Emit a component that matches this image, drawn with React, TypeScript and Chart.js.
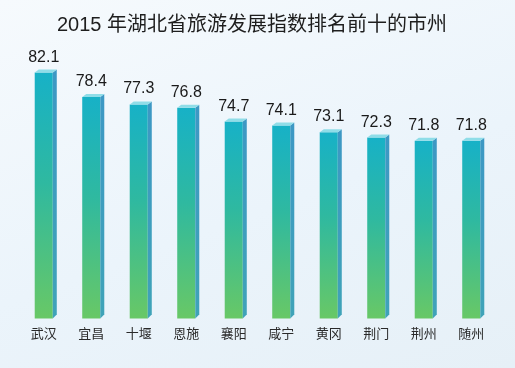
import React, { useEffect, useRef } from "react";
import { Chart, registerables } from "chart.js";

Chart.register(...registerables);

const titleText = "2015 年湖北省旅游发展指数排名前十的市州";
const cities = ["武汉", "宜昌", "十堰", "恩施", "襄阳", "咸宁", "黄冈", "荆门", "荆州", "随州"];
const indexValues = [82.1, 78.4, 77.3, 76.8, 74.7, 74.1, 73.1, 72.3, 71.8, 71.8];

const FONT = '"Liberation Sans", "Noto Sans CJK SC", sans-serif';

const bar3dPlugin = {
  id: "bar3d",
  afterDatasetsDraw(chart: any) {
    const ctx = chart.ctx;
    const meta = chart.getDatasetMeta(0);
    const base = chart.chartArea.bottom;
    const dx = 4;
    const dy = 3;
    meta.data.forEach((bar: any, i: number) => {
      const { x, y, width } = bar.getProps(["x", "y", "width"], true);
      const l = x - width / 2;
      const r = x + width / 2;
      ctx.save();
      // side face
      const sg = ctx.createLinearGradient(0, y, 0, base);
      sg.addColorStop(0, "#3d98c4");
      sg.addColorStop(1, "#3fa3b8");
      ctx.fillStyle = sg;
      ctx.beginPath();
      ctx.moveTo(r, y);
      ctx.lineTo(r + dx, y - dy);
      ctx.lineTo(r + dx, base - dy - 1);
      ctx.lineTo(r, base);
      ctx.closePath();
      ctx.fill();
      // top face
      ctx.fillStyle = "#8fdde8";
      ctx.beginPath();
      ctx.moveTo(l, y);
      ctx.lineTo(l + dx, y - dy);
      ctx.lineTo(r + dx, y - dy);
      ctx.lineTo(r, y);
      ctx.closePath();
      ctx.fill();
      // value label
      ctx.fillStyle = "#1a1a1a";
      ctx.font = `16px ${FONT}`;
      ctx.textAlign = "center";
      ctx.textBaseline = "alphabetic";
      ctx.fillText(String(indexValues[i]), x, y - 11);
      ctx.restore();
    });
  },
};

const titlePlugin = {
  id: "customTitle",
  afterDraw(chart: any) {
    const ctx = chart.ctx;
    ctx.save();
    ctx.fillStyle = "#1e1e1e";
    ctx.font = `20px ${FONT}`;
    ctx.textAlign = "center";
    ctx.textBaseline = "middle";
    ctx.fillText(titleText, 252, 25);
    ctx.restore();
  },
};

export default function App() {
  const canvasRef = useRef<HTMLCanvasElement | null>(null);

  useEffect(() => {
    document.body.style.margin = "0";
    const canvas = canvasRef.current;
    if (!canvas) return;
    const chart = new Chart(canvas, {
      type: "bar",
      data: {
        labels: cities,
        datasets: [
          {
            data: indexValues,
            backgroundColor: (c: any) => {
              const ch = c.chart;
              const ys = ch.scales && ch.scales.y;
              const area = ch.chartArea;
              if (!ys || !area || !c.parsed || !isFinite(c.parsed.y)) return "#2cb9a6";
              const top = ys.getPixelForValue(c.parsed.y);
              const bottom = area.bottom;
              if (!isFinite(top) || !isFinite(bottom) || top === bottom) return "#2cb9a6";
              const g = ch.ctx.createLinearGradient(0, top, 0, bottom);
              g.addColorStop(0, "#17b1c7");
              g.addColorStop(0.45, "#2fb9a0");
              g.addColorStop(1, "#68c866");
              return g;
            },
            borderWidth: 0,
            barPercentage: 0.38,
            categoryPercentage: 1,
          },
        ],
      },
      options: {
        responsive: false,
        animation: false,
        layout: { padding: { left: 20, right: 20, top: 60, bottom: 18 } },
        plugins: {
          legend: { display: false },
          title: { display: false },
          tooltip: { enabled: false },
        },
        scales: {
          x: {
            grid: { display: false, drawTicks: false },
            border: { display: false },
            ticks: {
              color: "#2a2a2a",
              font: { size: 13, family: FONT },
              padding: 8,
            },
          },
          y: {
            display: false,
            min: 45,
            max: 84,
          },
        },
      },
      plugins: [bar3dPlugin, titlePlugin],
    });
    return () => chart.destroy();
  }, []);

  return (
    <div
      style={{
        width: 515,
        height: 368,
        background: "linear-gradient(160deg, #f6fafd 0%, #ebf4fb 55%, #e6f0f7 100%)",
      }}
    >
      <canvas ref={canvasRef} width={515} height={368} style={{ display: "block" }} />
    </div>
  );
}
